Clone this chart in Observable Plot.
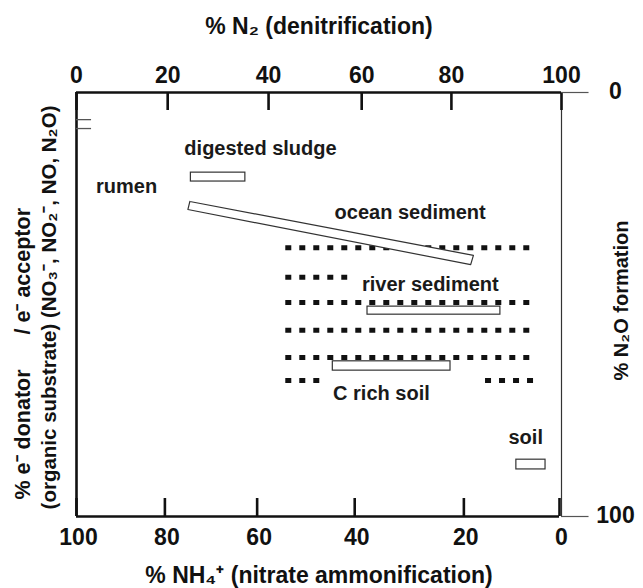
<!DOCTYPE html>
<html><head><meta charset="utf-8">
<script src="https://cdn.jsdelivr.net/npm/d3@7"></script>
<script src="https://cdn.jsdelivr.net/npm/@observablehq/plot@0.6"></script>
<style>
body{margin:0;background:#fff;}
#chart{position:relative;width:643px;height:588px;}
#chart svg{position:absolute;left:0;top:0;}
</style></head><body><div id="chart"></div>
<script>
// ---- data ----
// top axis: % N2 (denitrification)
const n2Ticks = [0, 20, 40, 60, 80, 100];
// bottom axis: % NH4+ (nitrate ammonification)
const nh4Ticks = [100, 80, 60, 40, 20, 0];
// right axis: % N2O formation
const n2oTicks = [0, 100];
// two short unlabeled marks on the left axis (in % N2O units)
const leftMarks = [6.4, 8.5];

// boxes (x in % N2, y in % N2O formation)
const boxName = ["digested sludge", "river sediment", "C rich soil", "soil"];
const boxX1 = [24.6, 61.3, 53.8, 91.8];
const boxX2 = [35.4, 88.9, 79.8, 97.1];
const boxY1 = [18.9, 50.5, 63.4, 86.6];
const boxY2 = [21.0, 52.4, 65.6, 88.9];

// ocean sediment: slanted band (corner points)
const oceanX = [24.4, 84.0, 83.5, 24.0, 24.4];
const oceanY = [25.7, 38.4, 40.6, 27.6, 25.7];

// dotted ranges
const dotY  = [36.6, 43.6, 49.5, 56.1, 62.5, 67.9, 67.9];
const dotX1 = [43.7, 43.7, 43.7, 43.7, 43.7, 43.7, 86.2];
const dotX2 = [95.6, 57.0, 95.6, 95.6, 95.6, 51.6, 95.6];

// labels
const labelText = ["rumen", "digested sludge", "ocean sediment", "river sediment", "C rich soil", "soil"];
const labelX = [11.0, 38.4, 70.8, 75.3, 64.4, 93.5];
const labelY = [22.2, 13.2, 28.3, 45.3, 71.0, 81.4];

const titleTop = "% N\u2082 (denitrification)";
const titleBottom = "% NH\u2084\u207A (nitrate ammonification)";
const titleRight = "% N\u2082O formation";
const leftDonor = "% e\u207B donator";
const leftAcceptor = "/ e\u207B acceptor";
const leftLine2 = "(organic substrate) (NO\u2083\u207B, NO\u2082\u207B, NO, N\u2082O)";

// ---- tables ----
const boxes = boxName.map((n, i) => ({n, x1: boxX1[i], x2: boxX2[i], y1: boxY1[i], y2: boxY2[i]}));
const ocean = oceanX.map((x, i) => ({x, y: oceanY[i]}));
const dots = dotY.map((y, i) => ({y, x1: dotX1[i], x2: dotX2[i]}));
const labels = labelText.map((t, i) => ({t, x: labelX[i], y: labelY[i]}));

// the hand-drawn axes are not evenly spaced: calibration of each axis
const topAxisWarp = d3.scaleLinear().domain([0, 20, 40, 60, 80, 100]).range([0, 18.8, 39.6, 58.8, 77.3, 100]);
const bottomAxisWarp = d3.scaleLinear().domain([100, 80, 60, 40, 20, 0]).range([100, 81.7, 62.6, 42.4, 19.8, 0]);

const W = 643, H = 588, MT = 92, MB = 72, ML = 76, MR = 82;
const FH = H - MT - MB;
const font = "'Liberation Sans', Arial, Helvetica, sans-serif";
const ink = "#111";
const bold = {fontWeight: "bold", fill: ink, lineAnchor: "middle"};
const base = {
  width: W, height: H, marginTop: MT, marginBottom: MB, marginLeft: ML, marginRight: MR,
  style: {background: "transparent", fontFamily: font, overflow: "visible"},
  y: {domain: [0, 100], reverse: true, axis: null}
};

const main = Plot.plot({
  ...base,
  x: {domain: [0, 100], transform: d => topAxisWarp(d), axis: null},
  marks: [
    // dotted ranges
    Plot.ruleY(dots, {y: "y", x1: "x1", x2: "x2", stroke: ink, strokeWidth: 5, strokeDasharray: "6,8"}),
    // boxes
    Plot.rect(boxes, {x1: "x1", x2: "x2", y1: "y1", y2: "y2", fill: "white", stroke: "#333", strokeWidth: 1.2}),
    Plot.line(ocean, {x: "x", y: "y", fill: "white", stroke: "#333", strokeWidth: 1.2}),
    // labels
    Plot.text(labels, {x: "x", y: "y", text: "t", fontSize: 20, ...bold, fill: "#1a1a1a"}),
    // frame: left, top, right
    Plot.ruleX([0], {y1: 0, y2: 100, stroke: ink, strokeWidth: 2.6}),
    Plot.ruleY([0], {x1: 0, x2: 100, stroke: ink, strokeWidth: 2.6}),
    Plot.ruleX([100], {y1: 0, y2: 100, stroke: "#333", strokeWidth: 1.2}),
    // top axis ticks & labels
    Plot.tickX(n2Ticks, {x: d => d, insetBottom: FH - 18, stroke: ink, strokeWidth: 2.6}),
    Plot.text(n2Ticks, {x: d => d, frameAnchor: "top", dy: -17, text: d => String(d), fontSize: 23, ...bold}),
    Plot.text([titleTop], {frameAnchor: "top", dy: -66, text: d => d, fontSize: 23, ...bold}),
    // left small marks
    Plot.ruleY(leftMarks, {x1: 0, x2: 3.3, stroke: "#555", strokeWidth: 1.3}),
    // right axis ticks & labels
    Plot.ruleY(n2oTicks, {x1: 100, x2: 105, stroke: "#555", strokeWidth: 1.2}),
    Plot.text(n2oTicks, {y: d => d, frameAnchor: "right", dx: 54, dy: -1, textAnchor: "middle", text: d => String(d), fontSize: 23, ...bold}),
    Plot.text([titleRight], {frameAnchor: "right", dx: 60, dy: -4, rotate: -90, textAnchor: "middle", text: d => d, fontSize: 20, ...bold}),
    // left axis titles
    Plot.text([leftLine2], {frameAnchor: "left", dx: -27, dy: 3, rotate: -90, textAnchor: "middle", text: d => d, fontSize: 20.5, ...bold}),
    Plot.text([leftDonor], {frameAnchor: "bottom-left", dx: -53, dy: -17, rotate: -90, textAnchor: "start", text: d => d, fontSize: 21.5, ...bold}),
    Plot.text([leftAcceptor], {frameAnchor: "left", dx: -53, dy: 30, rotate: -90, textAnchor: "start", text: d => d, fontSize: 21.5, ...bold})
  ]
});

const bottom = Plot.plot({
  ...base,
  x: {domain: [100, 0], range: [ML, 559], transform: d => bottomAxisWarp(d), axis: null},
  marks: [
    Plot.ruleY([100], {x1: 100, x2: 0, stroke: ink, strokeWidth: 2.6}),
    Plot.tickX(nh4Ticks, {x: d => d, insetTop: FH - 18, stroke: ink, strokeWidth: 2.6}),
    Plot.text(nh4Ticks, {x: d => d, frameAnchor: "bottom", dy: 21, dx: 2, text: d => String(d), fontSize: 23, ...bold}),
    Plot.text([titleBottom], {frameAnchor: "bottom", dy: 59, text: d => d, fontSize: 23, ...bold})
  ]
});

const el = document.getElementById("chart");
el.appendChild(main);
el.appendChild(bottom);
</script>
</body></html>
